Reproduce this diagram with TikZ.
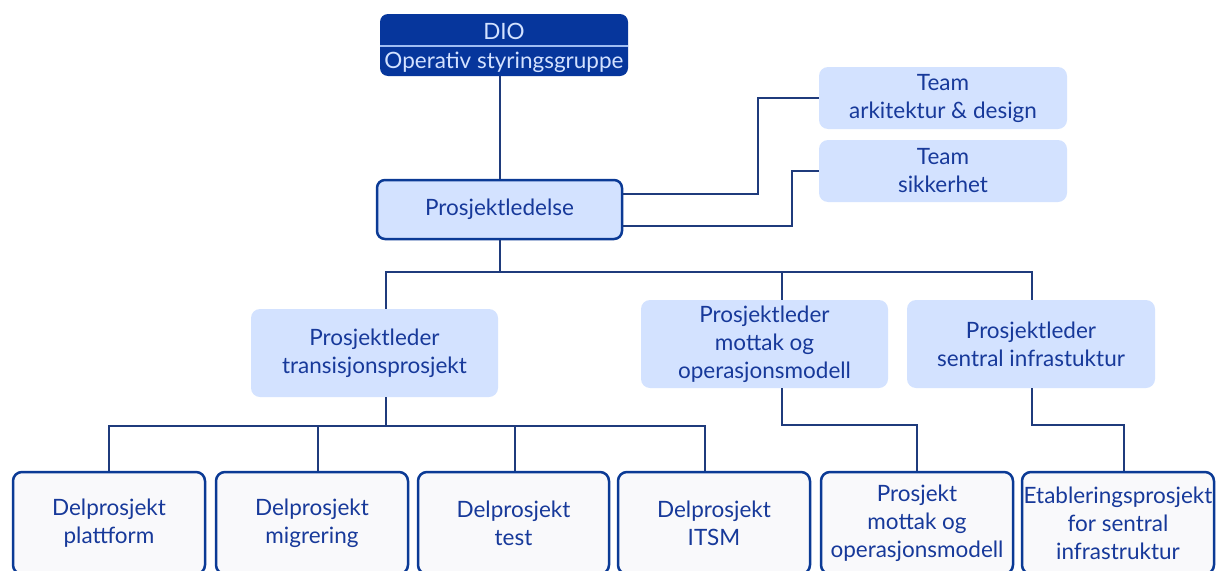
\documentclass[tikz,border=0pt]{standalone}
\usepackage{fontspec}
\setmainfont{Lato}
\usetikzlibrary{positioning}
\definecolor{navy}{HTML}{06369C}
\definecolor{lightblue}{HTML}{D3E2FF}
\definecolor{paleline}{HTML}{9FBDF2}
\definecolor{boxline}{HTML}{0B3A95}
\definecolor{linkcol}{HTML}{1F3B7C}
\definecolor{textblue}{HTML}{17399A}
\definecolor{subfill}{HTML}{F9F9FB}
\tikzset{
  orgline/.style={draw=linkcol, line width=2pt},
  topbox/.style={fill=navy, rounded corners=8pt, minimum width=248pt, minimum height=62pt},
  leadbox/.style={draw=boxline, line width=2.5pt, rounded corners=8pt, fill=lightblue, text=textblue, minimum width=245pt, minimum height=59pt, align=center},
  teambox/.style={rounded corners=9pt, fill=lightblue, text=textblue, minimum width=248pt, minimum height=62pt, align=center},
  plbox/.style={rounded corners=9pt, fill=lightblue, text=textblue, minimum width=247pt, minimum height=88pt, align=center},
  subbox/.style={draw=boxline, line width=2.5pt, rounded corners=9pt, fill=subfill, text=textblue, minimum width=192pt, minimum height=102pt, align=center, inner sep=1pt}
}

\begin{document}
\begin{tikzpicture}[x=1pt, y=-1pt, every node/.style={font=\fontsize{22.5}{28}\selectfont}]
  \useasboundingbox (0,0) rectangle (1217,570);
  \clip (0,0) rectangle (1217,570);
  % top
  \node[topbox] (dio) at (504,45) {};
  \draw[paleline, line width=1.5pt] (dio.west |- 0,46) -- (dio.east |- 0,46);
  \node[text=lightblue] (diotitle) at (504,31) {DIO};
  \node[text=lightblue] (diosub) at (504,62) {Operativ styringsgruppe};
  \node[leadbox] (lead) at (499.5,209.5) {Prosjektledelse};
  \node[teambox] (team1) at (943,98) {Team\\arkitektur \& design};
  \node[teambox] (team2) at (943,171) {Team\\sikkerhet};
  % project leaders
  \node[plbox] (pltrans) at (374.5,353) {Prosjektleder\\transisjonsprosjekt};
  \node[plbox] (plmottak) at (764.5,344) {Prosjektleder\\mottak og\\operasjonsmodell};
  \node[plbox, minimum width=248pt] (plsentral) at (1031,344) {Prosjektleder\\sentral infrastuktur};
  % sub projects
  \node[subbox] (dplatt) at (109,523) {Delprosjekt\\plattform};
  \node[subbox] (dmigr) at (312,523) {Delprosjekt\\migrering};
  \node[subbox, minimum width=191pt] (dtest) at (513.5,523) {Delprosjekt\\test};
  \node[subbox] (ditsm) at (714,523) {Delprosjekt\\ITSM};
  \node[subbox] (pmottak) at (917,523) {Prosjekt\\mottak og\\operasjonsmodell};
  \node[subbox] (petabl) at (1118,523) {Etableringsprosjekt\\for sentral\\infrastruktur};
  % connectors
  \coordinate (busA) at (0,272);
  \coordinate (busB) at (0,426);
  \draw[orgline] (lead.north |- dio.south) -- (lead.north);
  \draw[orgline] ([yshift=15.5pt]lead.east) -- ++(135,0) |- (team1.west);
  \draw[orgline] ([yshift=-16.5pt]lead.east) -- ++(169,0) |- (team2.west);
  \draw[orgline] (lead.south) -- (lead.south |- busA);
  \draw[orgline] ([xshift=11.5pt]pltrans.north) |- ([xshift=1pt]plsentral.north |- busA) -- ([xshift=1pt]plsentral.north);
  \draw[orgline] ([xshift=17.5pt]plmottak.north) -- ([xshift=17.5pt]plmottak.north |- busA);
  \draw[orgline] ([xshift=11.5pt]pltrans.south) -- ([xshift=11.5pt]pltrans.south |- busB);
  \draw[orgline] (dplatt.north) |- ([xshift=-9pt]ditsm.north |- busB) -- ([xshift=-9pt]ditsm.north);
  \draw[orgline] ([xshift=6pt]dmigr.north) -- ([xshift=6pt]dmigr.north |- busB);
  \draw[orgline] ([xshift=1.5pt]dtest.north) -- ([xshift=1.5pt]dtest.north |- busB);
  \draw[orgline] ([xshift=17.5pt]plmottak.south) -- ++(0,37) -| (pmottak.north);
  \draw[orgline] ([xshift=1pt]plsentral.south) -- ++(0,37) -| ([xshift=6pt]petabl.north);
\end{tikzpicture}
\end{document}
